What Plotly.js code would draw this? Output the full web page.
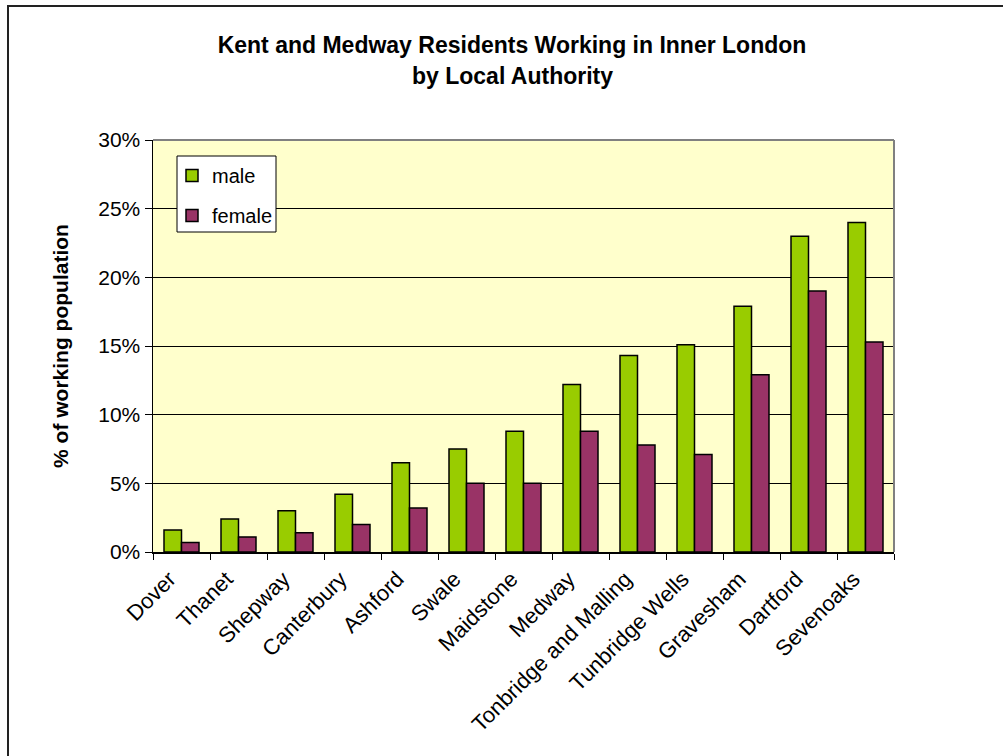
<!DOCTYPE html>
<html>
<head>
<meta charset="utf-8">
<script src="https://cdn.plot.ly/plotly-3.0.1.min.js"></script>
<style>
  html, body { margin: 0; padding: 0; background: #ffffff; }
  #wrap { position: relative; width: 1003px; height: 756px; overflow: hidden; }
  #chart { width: 1003px; height: 756px; }
  #frame { position: absolute; left: 7px; top: 5px; width: 1010px; height: 770px;
           border-left: 2px solid #222; border-top: 2px solid #222; pointer-events: none; }
</style>
</head>
<body>
<div id="wrap">
  <div id="chart"></div>
  <div id="frame"></div>
</div>
<script>
const categories = ["Dover", "Thanet", "Shepway", "Canterbury", "Ashford", "Swale", "Maidstone",
                    "Medway", "Tonbridge and Malling", "Tunbridge Wells", "Gravesham", "Dartford", "Sevenoaks"];
const maleValues   = [1.6, 2.4, 3.0, 4.2, 6.5, 7.5, 8.8, 12.2, 14.3, 15.1, 17.9, 23.0, 24.0];
const femaleValues = [0.7, 1.1, 1.4, 2.0, 3.2, 5.0, 5.0, 8.8, 7.8, 7.1, 12.9, 19.0, 15.3];
const seriesNames  = ["male", "female"];
const titleLine1 = "Kent and Medway Residents Working in Inner London";
const titleLine2 = "by Local Authority";
const yTitle = "% of working population";

const FONT = "Arial, 'Liberation Sans', sans-serif";
const PL = 153, PR = 894, PT = 140, PB = 552;
const PW = PR - PL, PH = PB - PT;
const px = v => (v - PL) / PW;
const py = v => (PB - v) / PH;

const traces = [
  { type: "bar", name: seriesNames[0], x: categories, y: maleValues, legendgroup: "m",
    marker: { color: "#99CC00", line: { color: "#000000", width: 1.5 } }, hoverinfo: "x+y" },
  { type: "bar", name: seriesNames[1], x: categories, y: femaleValues, legendgroup: "f",
    marker: { color: "#993366", line: { color: "#000000", width: 1.5 } }, hoverinfo: "x+y" }
];

const layout = {
  width: 1003, height: 756,
  margin: { l: PL, r: 1003 - PR, t: PT, b: 756 - PB, pad: 0 },
  paper_bgcolor: "#ffffff",
  plot_bgcolor: "#FFFFCC",
  font: { family: FONT, color: "#000000", size: 21 },
  title: { text: "<b>" + titleLine1 + "</b>", x: 512 / 1003, xanchor: "center", y: 1 - 45 / 756, yanchor: "middle",
           xref: "container", yref: "container", font: { family: FONT, size: 23, color: "#000" } },
  annotations: [
    { text: "<b>" + titleLine2 + "</b>", xref: "paper", yref: "paper",
      x: px(512), y: py(76), xanchor: "center", yanchor: "middle",
      showarrow: false, font: { family: FONT, size: 23, color: "#000" } }
  ],
  barmode: "group",
  bargap: 0.386,
  bargroupgap: 0,
  showlegend: true,
  legend: {
    x: px(172), y: py(156), xanchor: "left", yanchor: "top",
    bgcolor: "rgba(0,0,0,0)", borderwidth: 0,
    font: { family: FONT, size: 20, color: "#000" },
    tracegroupgap: 11, traceorder: "grouped",
    itemwidth: 30
  },
  xaxis: {
    type: "category",
    tickangle: -45,
    tickson: "boundaries",
    ticks: "outside", ticklen: 6, tickcolor: "#000", tickwidth: 1,
    showline: true, linecolor: "#000", linewidth: 1.5,
    showgrid: false,
    tickfont: { family: FONT, size: 22, color: "#000" },
    ticklabelshift: -12,
    ticklabelstandoff: 4,
    automargin: false
  },
  yaxis: {
    range: [0, 30], dtick: 5, tick0: 0,
    ticksuffix: "%",
    ticks: "outside", ticklen: 7, tickcolor: "#000", tickwidth: 1,
    showline: true, linecolor: "#000", linewidth: 1.5,
    showgrid: true, gridcolor: "#000000", gridwidth: 1,
    zeroline: false,
    tickfont: { family: FONT, size: 21, color: "#000" },
    title: { text: "<b>" + yTitle + "</b>", standoff: 24, font: { family: FONT, size: 21, color: "#000" } },
    automargin: false
  },
  shapes: [
    { type: "line", xref: "paper", yref: "paper", x0: 0, x1: 1, y0: 1, y1: 1,
      line: { color: "#808080", width: 2 } },
    { type: "line", xref: "paper", yref: "paper", x0: 1, x1: 1, y0: 0, y1: 1,
      line: { color: "#808080", width: 2 } },
    { type: "rect", xref: "paper", yref: "paper", layer: "above",
      x0: px(177), x1: px(276), y0: py(232), y1: py(156),
      fillcolor: "#ffffff", line: { color: "#000000", width: 1 } }
  ]
};

Plotly.newPlot("chart", traces, layout, { displayModeBar: false, staticPlot: true });
</script>
</body>
</html>
